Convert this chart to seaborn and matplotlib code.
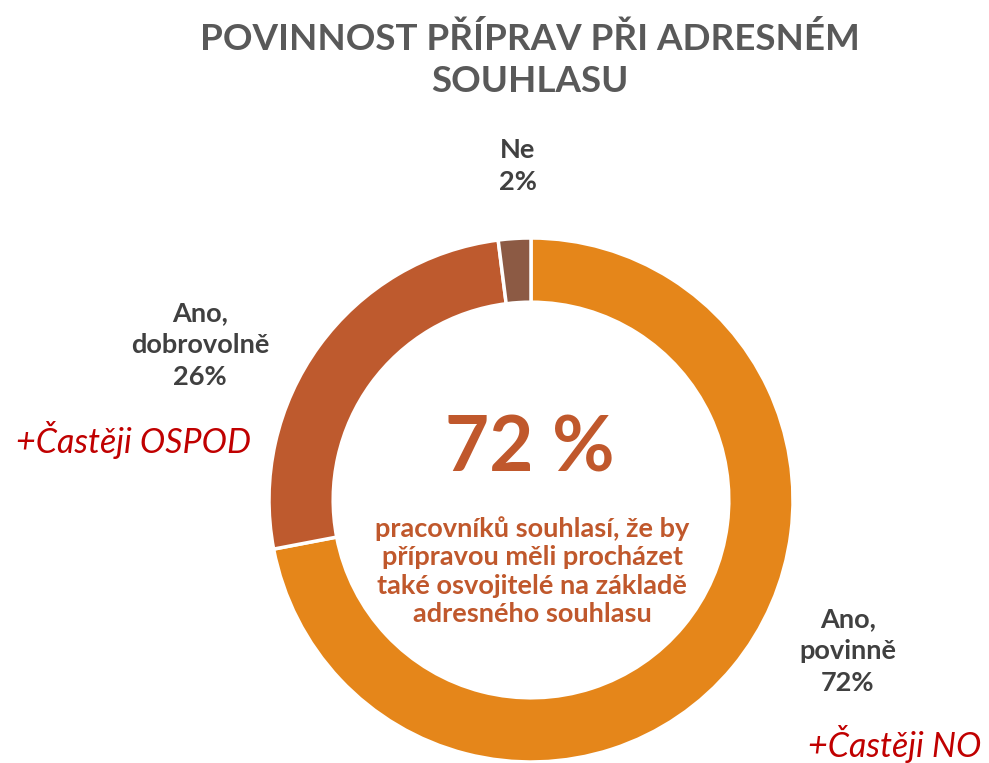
import matplotlib
matplotlib.use('Agg')
from matplotlib import pyplot as plt
import seaborn as sns

# Data
labels = ['Ano, povinně', 'Ano, dobrovolně', 'Ne']
values = [72, 26, 2]
colors = ['#E5861A', '#BE5A2E', '#8C5A44']

title = 'POVINNOST PŘÍPRAV PŘI ADRESNÉM\nSOUHLASU'
center_big = '72 %'
center_text = ('pracovníků souhlasí, že by\npřípravou měli procházet\n'
               'také osvojitelé na základě\nadresného souhlasu')
notes = {'Ano, dobrovolně': '+Častěji OSPOD', 'Ano, povinně': '+Častěji NO'}

sns.set_theme(style='white')
plt.rcParams['font.family'] = ['Lato', 'DejaVu Sans']

W, H = 989, 763
fig = plt.figure(figsize=(W / 100, H / 100), dpi=100)
ax = fig.add_axes([0, 0, 1, 1])

# donut, in pixel coordinates (y up)
cx, cy, r = 531, H - 500, 262
ax.pie(values, colors=colors, startangle=90, counterclock=False,
       center=(cx, cy), radius=r, frame=True,
       wedgeprops=dict(width=r * 0.245, edgecolor='white', linewidth=2.5))
ax.set_xlim(0, W)
ax.set_ylim(0, H)
ax.set_aspect('equal')
ax.axis('off')

def px(x, y):
    return x / W, 1 - y / H

grey = '#404040'
fig.text(*px(530, 60), title, ha='center', va='center', fontsize=26.5,
         fontweight='bold', color='#595959', linespacing=1.3)

# category labels
label_pos = [(848, 651), (200, 345), (518, 166)]
for lab, v, (x, y) in zip(labels, values, label_pos):
    txt = lab.replace(', ', ',\n') + f'\n{v}%'
    fig.text(*px(x, y), txt, ha='center', va='center', fontsize=19.5,
             fontweight='bold', color=grey, linespacing=1.4)

fig.text(*px(134, 440), notes['Ano, dobrovolně'], ha='center', va='center',
         fontsize=24.5, style='italic', color='#C00000')
fig.text(*px(895, 744), notes['Ano, povinně'], ha='center', va='center',
         fontsize=24.5, style='italic', color='#C00000')

# centre text
fig.text(*px(530, 450), center_big, ha='center', va='center', fontsize=55,
         fontweight='bold', color='#C0582C')
fig.text(*px(532, 571), center_text, ha='center', va='center', fontsize=19.5,
         fontweight='bold', color='#C0582C', linespacing=1.22)

fig.savefig('out.png', dpi=100)
